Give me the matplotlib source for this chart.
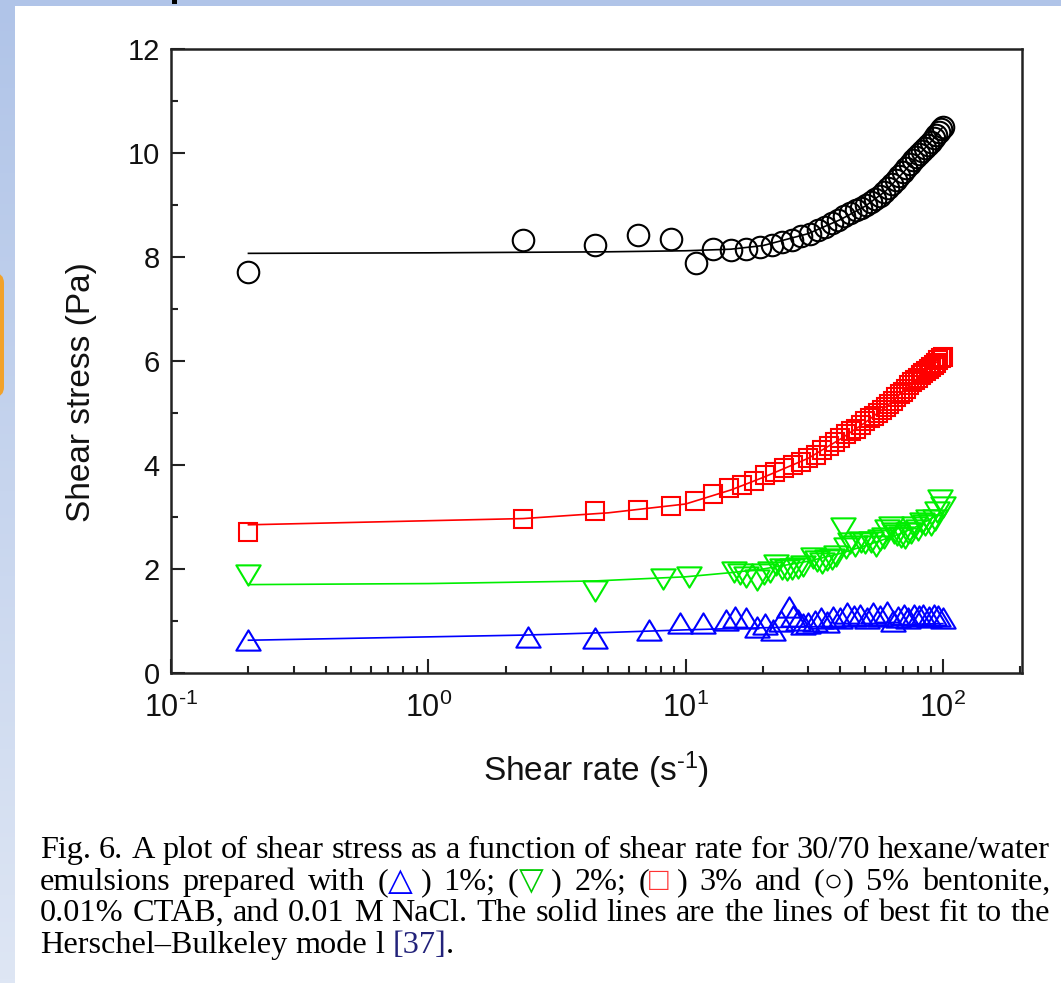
import matplotlib
matplotlib.use('Agg')
import matplotlib.pyplot as plt
import numpy as np
from matplotlib.path import Path
from matplotlib.ticker import MultipleLocator, LogLocator, NullFormatter
from matplotlib.patches import Rectangle, FancyBboxPatch
import matplotlib.transforms as mtransforms

plt.rcParams['font.family'] = ['Liberation Sans', 'DejaVu Sans']
plt.rcParams['mathtext.fontset'] = 'custom'
plt.rcParams['mathtext.rm'] = 'Liberation Sans'
plt.rcParams['mathtext.it'] = 'Liberation Sans:italic'
plt.rcParams['mathtext.bf'] = 'Liberation Sans:bold'

# ---------------- data ----------------
# 5% bentonite (black circles)
x_5 = [0.2, 2.34, 4.43, 6.56, 8.74, 11.0, 12.8, 15.0, 17.2, 19.4, 21.6, 23.8, 26.0, 28.2,
       30.4, 32.6, 34.8, 37.0, 39.2, 41.4, 43.6, 45.8, 48.0, 50.2, 52.4, 54.6, 56.8, 59.0,
       61.2, 63.4, 65.6, 67.8, 70.0, 72.2, 74.4, 76.6, 78.8, 81.0, 83.2, 85.4, 87.6, 89.8,
       92.0, 94.2, 96.4, 98.6, 100.0]
y_5 = [7.72, 8.33, 8.23, 8.42, 8.35, 7.88, 8.15, 8.13, 8.16, 8.20, 8.24, 8.28, 8.33, 8.40,
       8.45, 8.52, 8.58, 8.65, 8.72, 8.78, 8.84, 8.90, 8.95, 9.00, 9.05, 9.12, 9.18, 9.25,
       9.32, 9.40, 9.48, 9.56, 9.64, 9.72, 9.79, 9.86, 9.92, 9.98, 10.04, 10.10, 10.16, 10.22,
       10.28, 10.34, 10.40, 10.46, 10.50]
fit_x_5 = [0.2, 1, 5, 10, 15, 20, 30, 40, 50, 60, 70, 80, 90, 100]
fit_y_5 = [8.07, 8.08, 8.10, 8.12, 8.15, 8.22, 8.45, 8.72, 8.98, 9.27, 9.62, 9.95, 10.22, 10.50]

# 3% bentonite (red squares)
x_3 = [0.2, 2.34, 4.43, 6.56, 8.74, 10.9, 12.8, 14.7, 16.6, 18.5, 20.4, 22.3, 24.2, 26.1,
       28.0, 30.0, 32.0, 34.0, 36.0, 38.0, 40.0, 42.0, 44.0, 46.0, 48.0, 50.0, 52.0, 54.0,
       56.0, 58.0, 60.0, 62.0, 64.0, 66.0, 68.0, 70.0, 72.0, 74.0, 76.0, 78.0, 80.0, 82.0,
       84.0, 86.0, 88.0, 90.0, 92.0, 94.0, 96.0, 98.0, 100.0]
y_3 = [2.71, 2.96, 3.12, 3.14, 3.21, 3.30, 3.44, 3.55, 3.62, 3.70, 3.80, 3.86, 3.94, 4.00,
       4.06, 4.13, 4.20, 4.28, 4.36, 4.44, 4.52, 4.60, 4.65, 4.70, 4.77, 4.84, 4.90, 4.95,
       5.00, 5.06, 5.12, 5.18, 5.24, 5.30, 5.36, 5.41, 5.47, 5.53, 5.59, 5.64, 5.68, 5.73,
       5.77, 5.81, 5.85, 5.89, 5.93, 5.97, 6.01, 6.05, 6.08]
fit_x_3 = [0.2, 2.34, 5, 10, 15, 20, 30, 40, 50, 60, 70, 80, 90, 100]
fit_y_3 = [2.85, 2.97, 3.08, 3.25, 3.52, 3.76, 4.13, 4.50, 4.82, 5.12, 5.41, 5.68, 5.89, 6.08]

# 2% bentonite (green down triangles)
x_2 = [0.2, 4.43, 8.2, 10.3, 15.4, 16.3, 17.2, 18.9, 20.2, 21.3, 22.4, 23.6, 24.8, 26.0,
       27.3, 28.6, 31.2, 32.5, 33.9, 35.6, 37.0, 38.5, 40.8, 42.2, 43.7, 45.5, 47.9, 50.0,
       52.5, 54.8, 57.0, 58.9, 60.5, 62.7, 64.5, 66.5, 68.7, 71.0, 73.0, 75.3, 77.5, 80.0,
       82.6, 85.0, 87.5, 90.0, 92.9, 95.0, 97.3, 100.0]
y_2 = [1.88, 1.58, 1.80, 1.85, 1.94, 1.90, 1.85, 1.79, 1.90, 1.95, 2.08, 2.00, 1.98, 2.00,
       2.02, 2.05, 2.21, 2.15, 2.12, 2.17, 2.20, 2.25, 2.79, 2.40, 2.50, 2.45, 2.52, 2.50,
       2.52, 2.45, 2.55, 2.60, 2.75, 2.81, 2.70, 2.65, 2.62, 2.60, 2.70, 2.69, 2.80, 2.75,
       2.88, 2.85, 2.95, 2.85, 2.94, 3.10, 3.33, 3.19]
fit_x_2 = [0.2, 1, 4.43, 10, 15, 20, 30, 40, 50, 60, 70, 80, 90, 100]
fit_y_2 = [1.70, 1.72, 1.77, 1.85, 1.93, 2.00, 2.15, 2.30, 2.45, 2.58, 2.70, 2.83, 2.97, 3.10]

# 1% bentonite (blue up triangles)
x_1 = [0.2, 2.45, 4.45, 7.2, 9.5, 11.7, 14.3, 15.6, 17.1, 18.9, 20.3, 21.8, 23.5, 25.2,
       26.2, 27.3, 28.6, 30.0, 31.8, 33.5, 35.5, 37.5, 40.0, 42.5, 45.0, 47.7, 50.5, 53.5,
       57.0, 60.5, 64.0, 67.0, 70.3, 73.5, 77.0, 80.5, 84.0, 88.0, 92.0, 96.0, 100.0]
y_1 = [0.63, 0.69, 0.67, 0.83, 0.97, 0.97, 1.02, 1.08, 1.06, 0.88, 0.95, 0.83, 1.00, 1.27,
       1.10, 1.02, 0.95, 0.96, 1.00, 1.06, 0.98, 1.08, 1.05, 1.15, 1.10, 1.12, 1.05, 1.15,
       1.10, 1.17, 1.00, 1.08, 1.12, 1.05, 1.12, 1.10, 1.12, 1.08, 1.12, 1.10, 1.05]
fit_x_1 = [0.2, 2.4, 4.4, 10, 20, 40, 60, 80, 100]
fit_y_1 = [0.63, 0.73, 0.77, 0.83, 0.87, 0.90, 0.92, 0.94, 0.95]

x_label = 'Shear rate (s$^{\\mathregular{\u2010 1}}$)'
y_label = 'Shear stress (Pa)'
y_ticks = [0, 2, 4, 6, 8, 10, 12]
x_ticks = [0.1, 1, 10, 100]
x_tick_labels = ['$\\mathregular{10^{\u20101}}$', '$\\mathregular{10^{0}}$',
                 '$\\mathregular{10^{1}}$', '$\\mathregular{10^{2}}$']

# ---------------- figure ----------------
W, H = 1061, 983
fig = plt.figure(figsize=(W / 100, H / 100), dpi=100)
fig.patch.set_facecolor('white')

# slide background decoration
bg = fig.add_axes([0, 0, 1, 1], zorder=-10)
bg.axis('off')
grad = np.linspace(0, 1, 256)[:, None, None]
top_c = np.array([176, 196, 232]) / 255.0
bot_c = np.array([222, 230, 244]) / 255.0
img = top_c[None, None, :] * (1 - grad) + bot_c[None, None, :] * grad
bg.imshow(img, extent=(0, 15, H, 0), aspect='auto')
bg.add_patch(Rectangle((0, 0), W, 6, facecolor='#b0c4e8', edgecolor='none'))
bg.add_patch(FancyBboxPatch((-20, 273), 24, 124,
                            boxstyle='round,pad=0,rounding_size=10',
                            facecolor='#f2a22a', edgecolor='none'))
bg.add_patch(Rectangle((172, 0), 5, 4, facecolor='black', edgecolor='none'))
bg.set_xlim(0, W)
bg.set_ylim(H, 0)

ax = fig.add_axes([171 / W, (H - 673) / H, 851 / W, 624 / H])

up_tri = Path([(0, 1), (-1.2, -1), (1.2, -1), (0, 1)],
              [Path.MOVETO, Path.LINETO, Path.LINETO, Path.CLOSEPOLY])
down_tri = Path([(0, -1), (-1.2, 1), (1.2, 1), (0, -1)],
                [Path.MOVETO, Path.LINETO, Path.LINETO, Path.CLOSEPOLY])

mew = 1.5
ax.plot(fit_x_1, fit_y_1, '-', color='#0000ff', lw=1.2, zorder=2)
ax.plot(x_1, y_1, linestyle='none', marker=up_tri, ms=17.5, mfc='none', mec='#0000ff', mew=mew, zorder=3)
ax.plot(fit_x_2, fit_y_2, '-', color='#00ee00', lw=1.2, zorder=2)
ax.plot(x_2, y_2, linestyle='none', marker=down_tri, ms=17.5, mfc='none', mec='#00ee00', mew=mew, zorder=3)
ax.plot(fit_x_3, fit_y_3, '-', color='#ff0000', lw=1.2, zorder=2)
ax.plot(x_3, y_3, linestyle='none', marker='s', ms=13.5, mfc='none', mec='#ff0000', mew=mew, zorder=3)
ax.plot(fit_x_5, fit_y_5, '-', color='black', lw=1.2, zorder=2)
ax.plot(x_5, y_5, linestyle='none', marker='o', ms=15.5, mfc='none', mec='black', mew=mew, zorder=3)

ax.set_xscale('log')
ax.set_xlim(0.1, 203)
ax.set_ylim(0, 12)
ax.set_yticks(y_ticks)
ax.yaxis.set_minor_locator(MultipleLocator(1))
ax.set_xticks(x_ticks)
ax.set_xticklabels(x_tick_labels)
ax.xaxis.set_minor_locator(LogLocator(base=10, subs=np.arange(2, 10)))
ax.xaxis.set_minor_formatter(NullFormatter())

for s in ax.spines.values():
    s.set_linewidth(1.8)
    s.set_color('#222222')
ax.tick_params(which='both', direction='in', top=False, right=False, width=1.5, colors='#222222')
ax.tick_params(which='major', length=10, labelcolor='#111111')
ax.tick_params(axis='y', which='major', labelsize=21, pad=8)
ax.tick_params(axis='x', which='major', labelsize=22, pad=14)
ax.tick_params(which='minor', length=5)

ax.set_xlabel(x_label, fontsize=24, color='#111111')
ax.set_ylabel(y_label, fontsize=24, color='#111111')
ax.xaxis.set_label_coords(0.5, -0.122)
ax.yaxis.set_label_coords(-0.087, 0.45)

# ---------------- caption ----------------
cap_fam = ['Liberation Serif', 'DejaVu Sans']
renderer = fig.canvas.get_renderer()
ident = mtransforms.IdentityTransform()

def seg_width(s, size):
    t = fig.text(0, 0, s, fontsize=size, fontfamily=cap_fam, transform=ident)
    w = t.get_window_extent(renderer).width
    t.remove()
    return w

K = 'black'
caption_lines = [
    [[('Fig.', K)], [('6.', K)], [('A', K)], [('plot', K)], [('of', K)], [('shear', K)], [('stress', K)],
     [('as', K)], [('a', K)], [('function', K)], [('of', K)], [('shear', K)], [('rate', K)], [('for', K)],
     [('30/70', K)], [('hexane/water', K)]],
    [[('emulsions', K)], [('prepared', K)], [('with', K)],
     [('(', K), ('\u25B3', '#0000ff'), (' )', K)], [('1%;', K)],
     [('(', K), ('\u25BD', '#00cc00'), (' )', K)], [('2%;', K)],
     [('(', K), ('\u25A1', '#ff3333'), (' )', K)], [('3%', K)], [('and', K)],
     [('(\u25CB)', K)], [('5%', K)], [('bentonite,', K)]],
    [[('0.01%', K)], [('CTAB,', K)], [('and', K)], [('0.01', K)], [('M', K)], [('NaCl.', K)], [('The', K)],
     [('solid', K)], [('lines', K)], [('are', K)], [('the', K)], [('lines', K)], [('of', K)], [('best', K)],
     [('fit', K)], [('to', K)], [('the', K)]],
    [[('Herschel\u2013Bulkeley', K)], [('mode', K)], [('l', K)], [('[37]', '#22227a'), ('.', K)]],
]
justify = [True, True, True, False]
baselines = [858, 890, 921, 953]
x0, x1 = 40, 1050

# choose font size so that the first line fits the text column
base = 20.0
w_words = sum(seg_width(s, base) for w in caption_lines[0] for s, c in w)
space = seg_width('a b', base) - seg_width('ab', base)
natural = w_words + space * (len(caption_lines[0]) - 1)
cap_size = base * (x1 - x0) / natural

space = seg_width('a b', cap_size) - seg_width('ab', cap_size)
for words, just, yb in zip(caption_lines, justify, baselines):
    widths = [[seg_width(s, cap_size) for s, c in w] for w in words]
    total = sum(sum(ws) for ws in widths)
    gap = (x1 - x0 - total) / (len(words) - 1) if just else space
    x = x0
    for w, ws in zip(words, widths):
        for (s, c), sw in zip(w, ws):
            fig.text(x, H - yb, s, fontsize=cap_size, fontfamily=cap_fam, color=c,
                     transform=ident, va='baseline', ha='left')
            x += sw
        x += gap

fig.savefig('out.png', dpi=100, facecolor='white')
